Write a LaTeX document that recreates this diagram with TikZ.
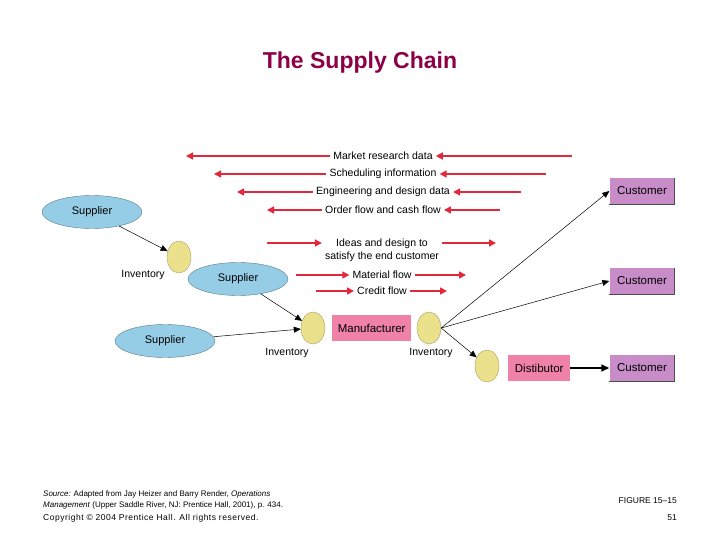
\documentclass[tikz,border=0pt]{standalone}
\usepackage{fontspec}
\setmainfont{Liberation Sans}
\usetikzlibrary{shapes.geometric, arrows.meta, positioning}
\definecolor{titlered}{RGB}{140,0,70}
\definecolor{supblue}{RGB}{150,205,230}
\definecolor{invyellow}{RGB}{235,225,140}
\definecolor{manpink}{RGB}{240,130,170}
\definecolor{custpurple}{RGB}{200,140,200}
\definecolor{flowred}{RGB}{225,40,60}

\begin{document}
\begin{tikzpicture}[x=1pt, y=-1pt,
  supplier/.style={ellipse, draw=supblue!60!black, fill=supblue, minimum width=100pt, minimum height=33pt, font=\fontsize{11}{12}\selectfont, inner sep=0pt},
  inv/.style={ellipse, draw=invyellow!70!black, fill=invyellow, minimum width=24pt, minimum height=32pt, inner sep=0pt},
  box/.style={rectangle, minimum height=26pt, inner sep=2pt, font=\fontsize{11.5}{12}\selectfont},
  lbl/.style={font=\fontsize{10.5}{13}\selectfont, inner sep=3pt},
  flow/.style={-{Triangle[length=7pt,width=7pt]}, flowred, line width=1.6pt},
  link/.style={-{Triangle[length=7pt,width=6pt]}, black, line width=0.5pt}
]
\useasboundingbox (0,0) rectangle (720,540);

\node[font=\bfseries\fontsize{23}{25}\selectfont, text=titlered] (title) at (360,63) {The Supply Chain};

% suppliers and inventories
\node[supplier] (sup1) at (92,212) {Supplier};
\node[inv] (inv1) at (179,257) {};
\node[lbl] (inv1lbl) at (143,275) {Inventory};
\node[supplier] (sup2) at (238,279) {Supplier};
\node[supplier] (sup3) at (165,341) {Supplier};
\node[inv] (inv2) at (313,328) {};
\node[lbl] (inv2lbl) at (287,353) {Inventory};
\node[box, fill=manpink, minimum width=79pt, anchor=west] (man) at (332,328) {Manufacturer};
\node[inv] (inv3) at (429,328) {};
\node[lbl] (inv3lbl) at (431,353) {Inventory};
\node[inv] (inv4) at (487,366) {};
\node[box, fill=manpink, minimum width=62pt, anchor=west] (dist) at (508,368) {Distibutor};

% customers
\foreach \y/\n in {191/1, 281/2, 368/3}{
  \node[box, fill=custpurple, minimum width=65pt] (cust\n) at (642,\y) {Customer};
  \draw[black!70, line width=1pt] (cust\n.north east) -- (cust\n.south east) -- (cust\n.south west);
}

\draw[link] (sup1) -- (inv1);
\draw[link] (sup2) -- (inv2);
\draw[link] (sup3) -- (inv2);
\draw[link] (inv3.east) -- (cust1.west);
\draw[link] (inv3.east) -- (cust2.west);
\draw[link] (inv3.east) -- (inv4);
\draw[-{Triangle[length=8pt,width=7pt]}, line width=1.4pt] (dist) -- (cust3);

% information flows (to the left)
\foreach \y/\l/\r/\t/\n in {156/186/572/Market research data/mkt,
  174/214/546/Scheduling information/sch,
  192/237/521/Engineering and design data/eng,
  210/267/500/Order flow and cash flow/ord}{
  \node[lbl] (\n) at (383,\y) {\t};
  \coordinate (\n L) at (\l,\y);
  \coordinate (\n R) at (\r,\y);
  \draw[flow] (\n) -- (\n L);
  \draw[flow] (\n R) -- (\n);
}

% material flows (to the right)
\node[lbl, align=center] (ide) at (382,250) {Ideas and design to\\satisfy the end customer};
\coordinate (ideL) at (267,243);
\coordinate (ideR) at (496,243);
\draw[flow] (ideL) -- (ideL -| ide.west);
\draw[flow] (ideR -| ide.east) -- (ideR);
\foreach \y/\l/\r/\t/\n in {275/296/466/Material flow/mat, 291/316/447/Credit flow/cre}{
  \node[lbl] (\n) at (382,\y) {\t};
  \coordinate (\n L) at (\l,\y);
  \coordinate (\n R) at (\r,\y);
  \draw[flow] (\n L) -- (\n);
  \draw[flow] (\n) -- (\n R);
}

% footer
\node[anchor=north west, align=left, font=\fontsize{8}{10}\selectfont, inner sep=0pt] (src) at (43,491)
  {\textit{Source:} Adapted from Jay Heizer and Barry Render, \textit{Operations}\\\textit{Management} (Upper Saddle River, NJ: Prentice Hall, 2001), p. 434.};
\node[anchor=west, font=\addfontfeatures{LetterSpace=6}\fontsize{8.5}{10}\selectfont, inner sep=0pt] (copy) at (43,518) {Copyright © 2004 Prentice Hall. All rights reserved.};
\node[anchor=east, font=\fontsize{8.5}{10}\selectfont, inner sep=0pt] (fig) at (677,501) {FIGURE 15–15};
\node[anchor=east, font=\fontsize{8.5}{10}\selectfont, inner sep=0pt] (page) at (677,518) {51};
\end{tikzpicture}
\end{document}
